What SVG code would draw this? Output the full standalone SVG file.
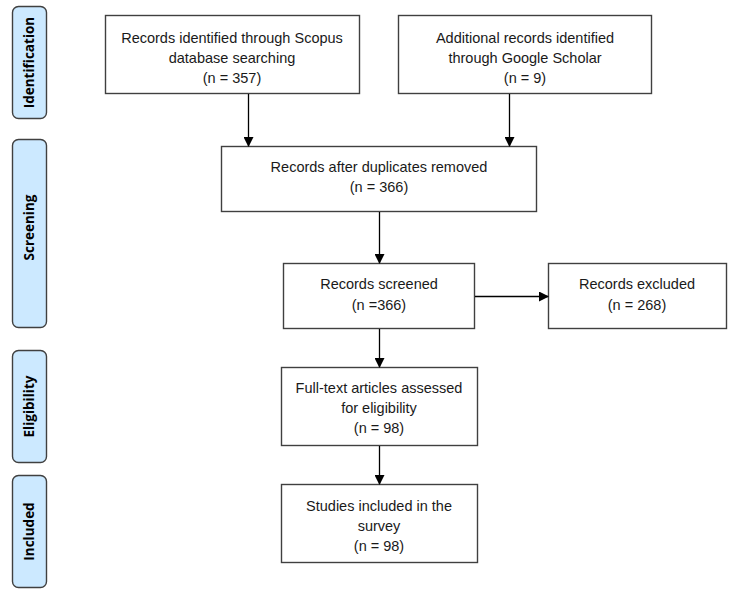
<svg xmlns="http://www.w3.org/2000/svg" width="737" height="596" viewBox="0 0 737 596">
<defs>
<marker id="ah" markerWidth="10" markerHeight="10" refX="9" refY="5" orient="auto" markerUnits="userSpaceOnUse">
<path d="M0,0 L10,5 L0,10 z" fill="#000"/>
</marker>
<style>
.box{fill:#fff;stroke:#404040;stroke-width:1.4}
.side{fill:#cce9ff;stroke:#404040;stroke-width:1.4}
.t{font-family:"Liberation Sans",Arial,sans-serif;font-size:14.5px;fill:#1a1a1a;text-anchor:middle}
.s{font-family:"Open Sans","Liberation Sans",sans-serif;font-size:13.5px;font-weight:bold;fill:#000;text-anchor:middle}
.c{stroke:#000;stroke-width:1.3;fill:none;marker-end:url(#ah)}
</style>
</defs>
<rect width="737" height="596" fill="#fff"/>
<g id="side-identification"><rect class="side" x="12.5" y="6.5" width="34" height="112" rx="6"/><text class="s" transform="translate(34,62.5) rotate(-90)">Identification</text></g>
<g id="side-screening"><rect class="side" x="12.5" y="139.5" width="34" height="188" rx="6"/><text class="s" transform="translate(34,227.5) rotate(-90)">Screening</text></g>
<g id="side-eligibility"><rect class="side" x="12.5" y="350.5" width="34" height="112" rx="6"/><text class="s" transform="translate(34,406.5) rotate(-90)">Eligibility</text></g>
<g id="side-included"><rect class="side" x="12.5" y="475.5" width="34" height="112" rx="6"/><text class="s" transform="translate(34,531.5) rotate(-90)">Included</text></g>
<g id="scopus"><rect class="box" x="105.5" y="15.5" width="254" height="78"/>
<text class="t" x="232" y="43">Records identified through Scopus</text>
<text class="t" x="232" y="63">database searching</text>
<text class="t" x="232" y="83">(n = 357)</text></g>
<g id="scholar"><rect class="box" x="398.5" y="15.5" width="253" height="78"/>
<text class="t" x="525" y="43">Additional records identified</text>
<text class="t" x="525" y="63">through Google Scholar</text>
<text class="t" x="525" y="83">(n = 9)</text></g>
<g id="dedup"><rect class="box" x="221.5" y="146.5" width="315" height="65"/>
<text class="t" x="379" y="172">Records after duplicates removed</text>
<text class="t" x="379" y="192">(n = 366)</text></g>
<g id="screened"><rect class="box" x="283.5" y="263.5" width="191" height="65"/>
<text class="t" x="379" y="289">Records screened</text>
<text class="t" x="379" y="310">(n =366)</text></g>
<g id="excluded"><rect class="box" x="548.5" y="263.5" width="178" height="65"/>
<text class="t" x="637" y="289">Records excluded</text>
<text class="t" x="637" y="310">(n = 268)</text></g>
<g id="fulltext"><rect class="box" x="281.5" y="367.5" width="196" height="78"/>
<text class="t" x="379" y="393">Full-text articles assessed</text>
<text class="t" x="379" y="413">for eligibility</text>
<text class="t" x="379" y="433">(n = 98)</text></g>
<g id="included"><rect class="box" x="281.5" y="484.5" width="196" height="78"/>
<text class="t" x="379" y="511">Studies included in the</text>
<text class="t" x="379" y="531">survey</text>
<text class="t" x="379" y="551">(n = 98)</text></g>
<g id="connectors">
<path class="c" d="M248.5,94 V146"/>
<path class="c" d="M509.5,94 V146"/>
<path class="c" d="M379.5,212 V263"/>
<path class="c" d="M475,296.5 H548"/>
<path class="c" d="M379.5,329 V367"/>
<path class="c" d="M379.5,446 V484"/>
</g>
</svg>
